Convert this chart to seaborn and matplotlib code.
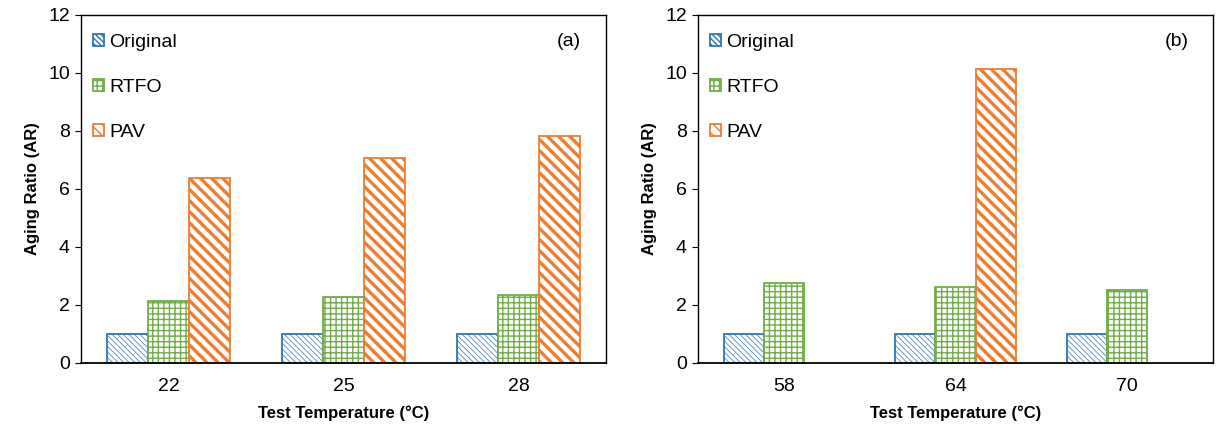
import numpy as np
import pandas as pd
import matplotlib
matplotlib.use("Agg")
import matplotlib.pyplot as plt
from matplotlib.patches import Patch
import seaborn as sns

# ---- data ----
temps_a = ["22", "25", "28"]
original_a = [1.0, 1.0, 1.0]
rtfo_a = [2.13, 2.27, 2.33]
pav_a = [6.37, 7.07, 7.83]

temps_b = ["58", "64", "70"]
original_b = [1.0, 1.0, 1.0]
rtfo_b = [2.76, 2.62, 2.52]
pav_b = [np.nan, 10.15, np.nan]

series = ["Original", "RTFO", "PAV"]
panel_tags = ["(a)", "(b)"]
yticks = [0, 2, 4, 6, 8, 10, 12]

sns.set_theme(style="white")
plt.rcParams["font.family"] = ["Liberation Sans", "DejaVu Sans"]
plt.rcParams["hatch.linewidth"] = 1.0
plt.rcParams["text.color"] = "black"
plt.rcParams["axes.labelcolor"] = "black"
plt.rcParams["xtick.color"] = "black"
plt.rcParams["ytick.color"] = "black"

colors = {"Original": "#2E75B6", "RTFO": "#70AD47", "PAV": "#ED7D31"}
hatches = {"Original": "\\\\\\\\\\\\", "RTFO": "+++", "PAV": "\\\\\\"}
hatch_lw = {"Original": 0.5, "RTFO": 1.0, "PAV": 2.4}


def make_df(temps, o, r, p):
    rows = []
    for t, a, b, c in zip(temps, o, r, p):
        rows.append((t, "Original", a))
        rows.append((t, "RTFO", b))
        rows.append((t, "PAV", c))
    df = pd.DataFrame(rows, columns=["Temp", "Series", "AR"])
    return df.dropna()


fig = plt.figure(figsize=(12.18, 4.34), dpi=100)
axA = fig.add_axes([0.0665, 0.1636, 0.4310, 0.8020])
axB = fig.add_axes([0.5730, 0.1636, 0.4230, 0.8020])

panels = [
    (axA, make_df(temps_a, original_a, rtfo_a, pav_a), temps_a, panel_tags[0]),
    (axB, make_df(temps_b, original_b, rtfo_b, pav_b), temps_b, panel_tags[1]),
]

for ax, df, order, tag in panels:
    sns.barplot(data=df, x="Temp", y="AR", hue="Series", order=order,
                hue_order=series, width=0.7, gap=0, ax=ax,
                palette=["white"] * 3, legend=False, errorbar=None)
    for cont, s in zip(ax.containers, series):
        for p in cont.patches:
            p.set_facecolor("white")
            p.set_edgecolor(colors[s])
            p.set_linewidth(1.3)
            p.set_hatch(hatches[s])
            if hasattr(p, "set_hatch_linewidth"):
                p.set_hatch_linewidth(hatch_lw[s])
    ax.set_xlim(-0.5, 2.5)
    ax.set_ylim(0, 12)
    ax.set_yticks(yticks)
    ax.tick_params(axis="y", direction="out", length=4, width=0.8,
                   labelsize=14, left=True, pad=4)
    ax.tick_params(axis="x", length=0, labelsize=14, pad=11)
    for sp in ax.spines.values():
        sp.set_visible(True)
        sp.set_color("black")
        sp.set_linewidth(1.0)
    ax.spines["bottom"].set_linewidth(1.3)
    ax.set_xlabel("Test Temperature (°C)", fontsize=12, fontweight="bold",
                  labelpad=7)
    ax.set_ylabel("Aging Ratio (AR)", fontsize=12, fontweight="bold",
                  labelpad=6)
    ax.text(0.93, 0.925, tag, transform=ax.transAxes, fontsize=14,
            ha="center", va="center")
    ax.grid(False)

    handles = []
    for s in series:
        h = Patch(facecolor="white", edgecolor=colors[s], hatch=hatches[s],
                  linewidth=1.3)
        handles.append(h)
    ax.legend(handles, series, loc="upper left", frameon=False,
              fontsize=14, handlelength=0.6, handleheight=0.6,
              handletextpad=0.25, labelspacing=1.45,
              borderaxespad=0.2, bbox_to_anchor=(0.0, 0.98))

fig.savefig("out.png", dpi=100, facecolor="white")
